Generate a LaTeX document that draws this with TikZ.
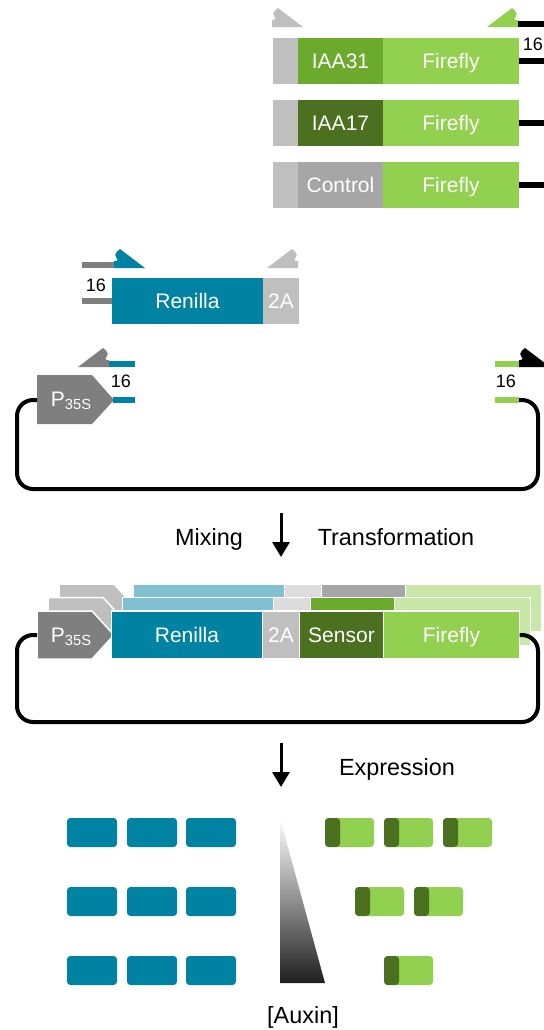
\documentclass[tikz,border=0pt]{standalone}
\usepackage{fontspec}
\setmainfont{Liberation Sans}
\usetikzlibrary{arrows.meta}

\definecolor{renilla}{RGB}{0,130,163}
\definecolor{renillahell}{RGB}{128,192,209}
\definecolor{firefly}{RGB}{146,208,80}
\definecolor{fireflyhell}{RGB}{201,231,168}
\definecolor{iaamittel}{RGB}{108,170,46}
\definecolor{iaadunkel}{RGB}{74,112,32}
\definecolor{grauhell}{RGB}{191,191,191}
\definecolor{graumittel}{RGB}{166,166,166}
\definecolor{graudunkel}{RGB}{127,127,127}
\definecolor{grausehrhell}{RGB}{220,220,220}

\tikzset{
  primer/.pic={
    \path[pic actions] (-31,0) -- (0,0) -- (-25,-19) [rounded corners=2.5pt] -- (-32,-13) -- (-25,-7) [sharp corners] -- (-31,-7) -- cycle;
  },
  txt/.style={text=white, font=\fontsize{10.5}{12}\selectfont, inner sep=0pt, text height=7.5pt, text depth=0pt},
  zahl/.style={font=\fontsize{9}{10}\selectfont, inner sep=0pt, text height=6.4pt, text depth=0pt},
  beschr/.style={font=\fontsize{11.7}{13}\selectfont, inner sep=0pt, text height=8.4pt, text depth=0pt},
  plasmid/.style={line width=2pt, rounded corners=8pt},
  pfeil/.style={line width=1.5pt, -{Triangle[length=7.5pt, width=8.5pt]}},
  seg/.style={draw=white, line width=0.75pt}
}

% Promotor + Kassette
\newcommand{\konstrukt}[5]{%
  \fill[#1, seg] (37,611) -- (92,611) -- (114,635) -- (92,659) -- (37,659) -- cycle;
  \fill[#2, seg] (111.5,611) rectangle (262.5,659);
  \fill[#3, seg] (262.5,611) rectangle (299.5,659);
  \fill[#4, seg] (299.5,611) rectangle (383.5,659);
  \fill[#5, seg] (383.5,611) rectangle (519.5,659);
}

\begin{document}
\begin{tikzpicture}[x=0.5pt, y=-0.5pt]
		\useasboundingbox (0,0) rectangle (543,1030);
		
		% Primer oben
		\pic[fill=grauhell] at (303,27) {primer};
		\pic[fill=firefly, xscale=-1] at (487,27) {primer};
		\fill (518,21) rectangle (545,27);
		\node[zahl] (zweiunddreissig) at (287,50) {32};
		\node[zahl] (sechzehnA) at (533,44) {16};
		
		% Sensor-Varianten
		\foreach \y/\farbe/\name [count=\i] in {38/iaamittel/IAA31, 99.5/iaadunkel/IAA17, 162/graumittel/Control}{
			\fill[grauhell] (273,\y) rectangle (298,\y+46);
			\fill[\farbe] (298,\y) rectangle (383,\y+46);
			\fill[firefly] (383,\y) rectangle (519,\y+46);
			\fill (519,\y+20) rectangle (545,\y+26);
			\node[txt] (sensor\i) at (340.5,\y+23) {\name};
			\node[txt] (firefly\i) at (451,\y+23) {Firefly};
		}
		
		% Renilla-Fragment
		\fill[graudunkel] (82,262) rectangle (116,268);
		\pic[fill=renilla] at (145,268) {primer};
		\pic[fill=grauhell, xscale=-1] at (267,268) {primer};
		\node[zahl] (sechzehnB) at (96,285) {16};
		\fill[graudunkel] (82,298) rectangle (112,304);
		\fill[renilla] (112,278) rectangle (263,324);
		\fill[grauhell] (263,278) rectangle (299,324);
		\node[txt] (renillaA) at (187.5,301) {Renilla};
		\node[txt] (zweiA) at (281,301) {2A};
		
		% Vektor
		\pic[fill=graudunkel, xscale=-1] at (78,367) {primer};
		\fill[renilla] (109,361) rectangle (135,367);
		\fill[graudunkel] (37,375) -- (92,375) -- (114,400) -- (92,424) -- (37,424) -- cycle;
		\node[txt] (promA) at (71.5,399) {P\textsubscript{35S}};
		\node[zahl] (sechzehnC) at (121,381) {16};
		\fill[renilla] (113,397) rectangle (135,403);
		\fill[firefly] (495,361) rectangle (522,367);
		\pic[fill=black] at (550,367) {primer};
		\node[zahl] (sechzehnD) at (506,381) {16};
		\fill[firefly] (495,397) rectangle (519,403);
		\coordinate (vekL) at (37,400);
		\coordinate (vekR) at (519,400);
		\draw[plasmid] (vekL) -| (17,489) -| (538,400) -- (vekR);
		
		% Mischen
		\coordinate (mixOben) at (281,513);
		\coordinate (mixUnten) at (281,557);
		\draw[pfeil] (mixOben) -- (mixUnten);
		\node[beschr] (mixing) at (209,537) {Mixing};
		\node[beschr] (trafo) at (396,537) {Transformation};
		
		% Konstrukte (gestapelt)
		\begin{scope}[shift={(22,-27)}]
			\konstrukt{grauhell}{renillahell}{grausehrhell}{graumittel}{fireflyhell}
		\end{scope}
		\begin{scope}[shift={(11,-13.5)}]
			\konstrukt{grauhell}{renillahell}{grausehrhell}{iaamittel}{fireflyhell}
		\end{scope}
		\konstrukt{graudunkel}{renilla}{grauhell}{iaadunkel}{firefly}
		\node[txt] (promB) at (71.5,635) {P\textsubscript{35S}};
		\node[txt] (renillaB) at (187,635) {Renilla};
		\node[txt] (zweiB) at (281,635) {2A};
		\node[txt] (sensorB) at (341.5,635) {Sensor};
		\node[txt] (fireflyB) at (451.5,635) {Firefly};
		\coordinate (konL) at (37,635);
		\coordinate (konR) at (519.5,635);
		\draw[plasmid] (konL) -| (17,722) -| (538,635) -- (konR);
		
		% Expression
		\coordinate (expOben) at (281,743);
		\coordinate (expUnten) at (281,787);
		\draw[pfeil] (expOben) -- (expUnten);
		\node[beschr] (expression) at (397,767) {Expression};
		
		% Renilla-Signal
		\foreach \x in {67,127,186}
			\foreach \y in {818,887,956}
				\fill[renilla, rounded corners=1.7pt] (\x,\y) rectangle (\x+50,\y+29);
		
		% Auxin-Gradient
		\shade[top color=white, bottom color=black!88] (280,818) -- (280,983) -- (325,983) -- cycle;
		\node[beschr] (auxin) at (303,1015) {[Auxin]};
		
		% Firefly-Signal
		\foreach \x/\y in {325/818, 384/818, 443/818, 355/887, 414/887, 384/956}{
			\fill[firefly, rounded corners=1.7pt] (\x+10,\y) rectangle (\x+49,\y+29);
			\fill[iaadunkel, rounded corners=1.7pt] (\x,\y) rectangle (\x+15,\y+29);
		}
		
	\end{tikzpicture}
\end{document}
